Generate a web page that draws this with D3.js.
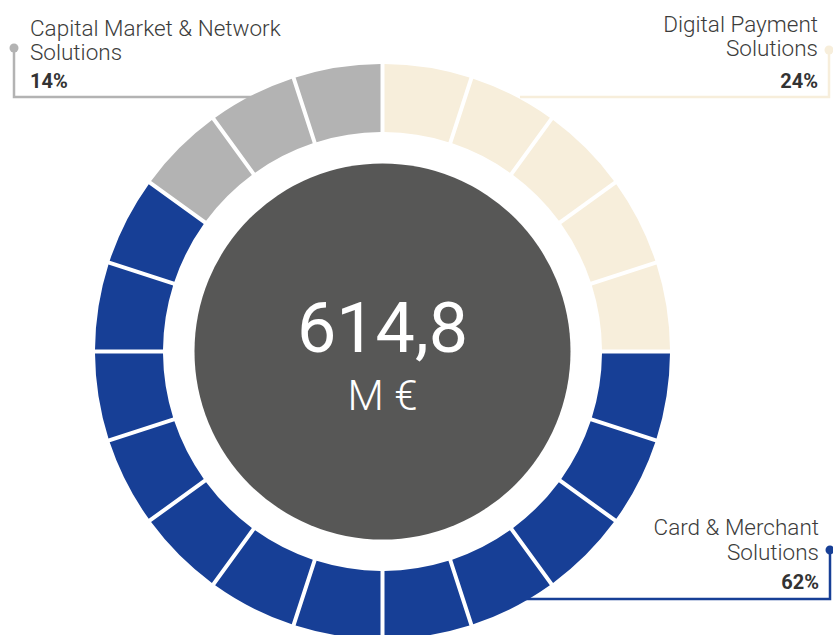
<!doctype html>
<html lang="en">
<head>
<meta charset="utf-8">
<script src="https://d3js.org/d3.v7.min.js"></script>
<title>Revenue split donut</title>
<style>
  body { margin: 0; background: #fff; }
  svg { display: block; font-family: Roboto, "Open Sans", sans-serif; }
  .lbl { font-weight: 300; font-size: 22.5px; fill: #3c3c3b; }
  .pct { font-weight: 700; font-size: 20px; fill: #333; }
</style>
</head>
<body>
<div id="chart"></div>
<script>
// data
const segments = ['Digital Payment Solutions', 'Card & Merchant Solutions', 'Capital Market & Network Solutions'];
const labelLines = [
  ['Digital Payment', 'Solutions'],
  ['Card & Merchant', 'Solutions'],
  ['Capital Market & Network', 'Solutions']
];
const blocks = [5, 12, 3];          // number of ring tiles per segment (20 in total)
const shares = ['24%', '62%', '14%'];
const colours = ['#f7eedb', '#173f96', '#b3b3b3'];
const total = '614,8';
const unit = 'M €';

const width = 833, height = 635;
const cx = 382.5, cy = 351.5;
const rOuter = 287.5, rInner = 219.5, rCore = 188;

const svg = d3.select('#chart').append('svg')
  .attr('width', width)
  .attr('height', height);

// one tile per block, tagged with its segment
let tiles = [];
blocks.forEach((n, i) => {
  for (let k = 0; k < n; k++) tiles.push({ seg: i });
});

const pie = d3.pie().value(1).sort(null);
const arc = d3.arc()
  .innerRadius(rInner)
  .outerRadius(rOuter)
  .padRadius(100)
  .padAngle(0.04);

// leader lines first so the ring covers their ends
const leaders = [
  { seg: 2, dot: [14, 48], corner: [14, 97], end: [255, 97], anchor: 'start', x: 30, y: [36, 60, 88] },
  { seg: 0, dot: [829, 50], corner: [829, 97], end: [520, 97], anchor: 'end', x: 818, y: [32, 56, 88] },
  { seg: 1, dot: [830, 550], corner: [830, 599], end: [520, 599], anchor: 'end', x: 819, y: [535, 560, 589] }
];

const lg = svg.append('g');
leaders.forEach(l => {
  lg.append('polyline')
    .attr('points', [l.dot, l.corner, l.end].map(p => p.join(',')).join(' '))
    .attr('fill', 'none')
    .attr('stroke', colours[l.seg])
    .attr('stroke-width', 2.5);
  lg.append('circle')
    .attr('cx', l.dot[0]).attr('cy', l.dot[1]).attr('r', 4.5)
    .attr('fill', colours[l.seg]);
  const t = lg.append('text').attr('text-anchor', l.anchor);
  labelLines[l.seg].forEach((s, j) => {
    t.append('tspan').attr('class', 'lbl').attr('x', l.x).attr('y', l.y[j]).text(s);
  });
  lg.append('text')
    .attr('class', 'pct')
    .attr('text-anchor', l.anchor)
    .attr('x', l.x).attr('y', l.y[2])
    .text(shares[l.seg]);
});

const ring = svg.append('g').attr('transform', `translate(${cx},${cy})`);

ring.selectAll('path')
  .data(pie(tiles))
  .join('path')
  .attr('d', arc)
  .attr('fill', d => colours[d.data.seg]);

ring.append('circle')
  .attr('r', rCore)
  .attr('fill', '#575756');

ring.append('text')
  .attr('text-anchor', 'middle')
  .attr('y', 0)
  .attr('fill', '#fff')
  .style('font-size', '70px')
  .style('font-weight', 400)
  .text(total);

ring.append('text')
  .attr('text-anchor', 'middle')
  .attr('y', 58)
  .attr('fill', '#fff')
  .style('font-size', '42px')
  .style('font-weight', 300)
  .text(unit);
</script>
</body>
</html>
